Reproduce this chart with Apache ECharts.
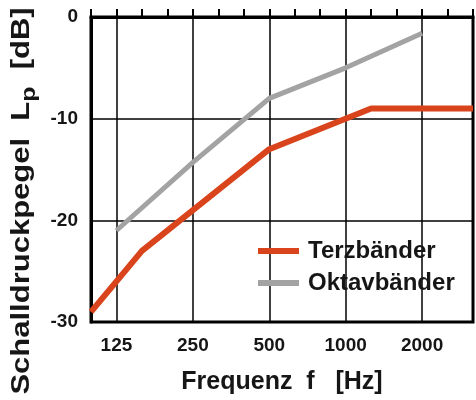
<!DOCTYPE html>
<html lang="de">
<head>
    <meta charset="UTF-8">
    <title>Schalldruckpegel</title>
    <script src="https://cdn.jsdelivr.net/npm/echarts@6/dist/echarts.min.js"></script>
    <style>
        html, body { margin: 0; padding: 0; background: #fff; }
        #main { width: 476px; height: 400px; }
    </style>
</head>
<body>
<div id="main"></div>
<script type="text/javascript">

    // Terzband-Mittenfrequenzen (Kategorien der x-Achse)
    var bands = ['100', '125', '160', '200', '250', '315', '400', '500', '630',
                 '800', '1000', '1250', '1600', '2000', '2500', '3150'];
    // beschriftete Frequenzen
    var tickLabels = ['125', '250', '500', '1000', '2000'];

    // Terzbänder
    var terzFreq = ['100', '160', '500', '1250', '3150'];
    var terzLevel = [-29, -23, -13, -9, -9];

    // Oktavbänder
    var oktavFreq = ['125', '250', '500', '1000', '2000'];
    var oktavLevel = [-21, -14.3, -8, -5, -1.6];

    var font = 'Liberation Sans, Arial, sans-serif';
    var ink = '#161616';

    function pairs(f, v) {
        var out = [];
        for (var i = 0; i < f.length; i++) {
            out.push([f[i], v[i]]);
        }
        return out;
    }

    function isMajor(index, value) {
        return tickLabels.indexOf(bands[index]) >= 0;
    }

    var myChart = echarts.init(document.getElementById('main'));

    var option = {
        animation: false,
        grid: {
            left: 91, top: 17, right: 3, bottom: 77,
            show: true, borderColor: '#000', borderWidth: 3,
            containLabel: false
        },
        legend: {
            orient: 'vertical',
            left: 253, top: 234,
            itemWidth: 41, itemHeight: 6, itemGap: 8,
            icon: 'rect',
            textStyle: {
                fontFamily: font, fontWeight: 'bold', fontSize: 24, color: ink,
                padding: [0, 0, 0, 4]
            },
            data: ['Terzbänder', 'Oktavbänder']
        },
        xAxis: {
            type: 'category',
            data: bands,
            boundaryGap: false,
            name: 'Frequenz  f   [Hz]',
            nameLocation: 'middle',
            nameGap: 48,
            nameTextStyle: { fontFamily: font, fontWeight: 'bold', fontSize: 25, color: ink },
            axisLine: { lineStyle: { color: '#000', width: 3 } },
            axisTick: { inside: true, length: 8, interval: 0, lineStyle: { color: '#000', width: 2 } },
            axisLabel: {
                interval: isMajor, margin: 14,
                fontFamily: font, fontWeight: 'bold', fontSize: 19, color: ink
            },
            splitLine: { show: true, interval: isMajor, lineStyle: { color: '#000', width: 1.5 } }
        },
        yAxis: {
            type: 'value',
            min: -30, max: 0, interval: 10,
            axisLine: { show: true, lineStyle: { color: '#000', width: 3 } },
            axisTick: { show: false },
            axisLabel: { margin: 13, fontFamily: font, fontWeight: 'bold', fontSize: 19, color: ink },
            splitLine: { show: true, lineStyle: { color: '#000', width: 1.5 } }
        },
        graphic: [{
            type: 'text',
            x: 22, y: 201,
            rotation: Math.PI / 2,
            scaleX: 1.24,
            style: {
                text: '{t|Schalldruckpegel  L}{p|p}{t|  [dB]}',
                align: 'center', verticalAlign: 'middle',
                rich: {
                    t: { fontFamily: font, fontWeight: 'bold', fontSize: 25, fill: ink,
                         lineHeight: 30, verticalAlign: 'middle' },
                    p: { fontFamily: font, fontWeight: 'bold', fontSize: 20, fill: ink,
                         lineHeight: 20, verticalAlign: 'middle', padding: [14, 0, 0, 0] }
                }
            }
        }],
        series: [{
            name: 'Terzbänder',
            type: 'line',
            showSymbol: false,
            data: pairs(terzFreq, terzLevel),
            itemStyle: { color: '#d9441c' },
            lineStyle: { color: '#d9441c', width: 6 },
            z: 3
        }, {
            name: 'Oktavbänder',
            type: 'line',
            showSymbol: false,
            data: pairs(oktavFreq, oktavLevel),
            itemStyle: { color: '#a3a3a3' },
            lineStyle: { color: '#a3a3a3', width: 5 },
            z: 2
        }]
    };

    myChart.setOption(option);
</script>
</body>
</html>
